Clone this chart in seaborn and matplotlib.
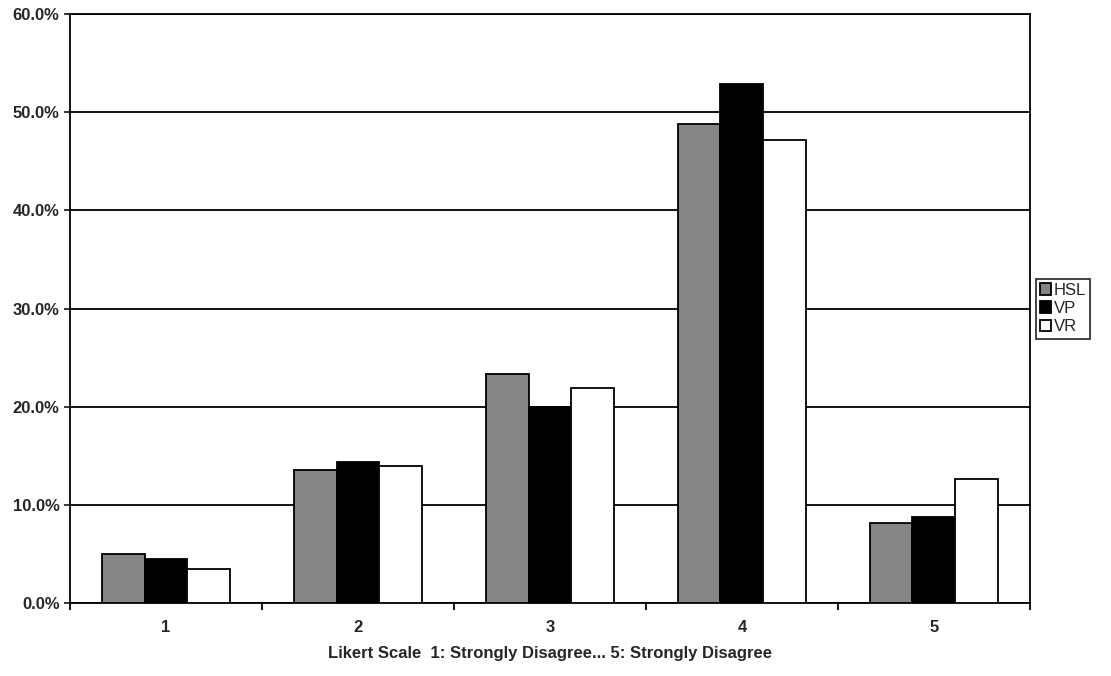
import pandas as pd
import matplotlib.pyplot as plt
import seaborn as sns
from matplotlib.ticker import PercentFormatter, FixedLocator

# Data
categories = ['1', '2', '3', '4', '5']
series = ['HSL', 'VP', 'VR']
hsl = [5.0, 13.6, 23.3, 48.8, 8.2]
vp = [4.5, 14.4, 20.0, 52.9, 8.8]
vr = [3.5, 14.0, 21.9, 47.2, 12.6]

df = pd.DataFrame({
    'scale': categories * 3,
    'group': [s for s in series for _ in categories],
    'pct': hsl + vp + vr,
})

sns.set_style('white')
plt.rcParams['font.family'] = ['Liberation Sans', 'DejaVu Sans']

fig = plt.figure(figsize=(11.11, 6.76), dpi=100)
ax = fig.add_axes([0.063, 0.108, 0.864, 0.871])

palette = {'HSL': '#858585', 'VP': '#000000', 'VR': '#ffffff'}
sns.barplot(data=df, x='scale', y='pct', hue='group', hue_order=series,
            order=categories, palette=palette, width=0.67, saturation=1,
            edgecolor='black', linewidth=1.3, ax=ax, zorder=3)

ax.set_ylim(0, 60)
ax.set_xlim(-0.5, 4.5)
ax.set_yticks(range(0, 61, 10))
ax.yaxis.set_major_formatter(PercentFormatter(decimals=1))
ax.grid(axis='y', color='black', linewidth=1.3, zorder=0)
ax.set_axisbelow(True)
for sp in ax.spines.values():
    sp.set_color('black')
    sp.set_linewidth(1.3)

ax.tick_params(axis='x', which='major', length=0, pad=12, labelsize=12)
ax.xaxis.set_minor_locator(FixedLocator([-0.5, 0.5, 1.5, 2.5, 3.5, 4.5]))
ax.tick_params(axis='x', which='minor', length=5, width=1.3, color='black',
               direction='out', bottom=True)
ax.tick_params(axis='y', length=4, width=1.3, direction='out', left=True,
               labelsize=12)
for lab in ax.get_xticklabels() + ax.get_yticklabels():
    lab.set_fontweight('bold')

ax.set_xlabel('Likert Scale  1: Strongly Disagree... 5: Strongly Disagree',
              fontsize=12, fontweight='bold', labelpad=8)
ax.set_ylabel('')

leg = ax.legend(loc='center left', bbox_to_anchor=(1.006, 0.5),
                frameon=True, fancybox=False, edgecolor='black',
                fontsize=12, handlelength=0.7, handleheight=0.7,
                handletextpad=0.15, borderpad=0.25, labelspacing=0.2,
                borderaxespad=0)
leg.get_frame().set_linewidth(1.3)

fig.savefig('out.png', dpi=100)
